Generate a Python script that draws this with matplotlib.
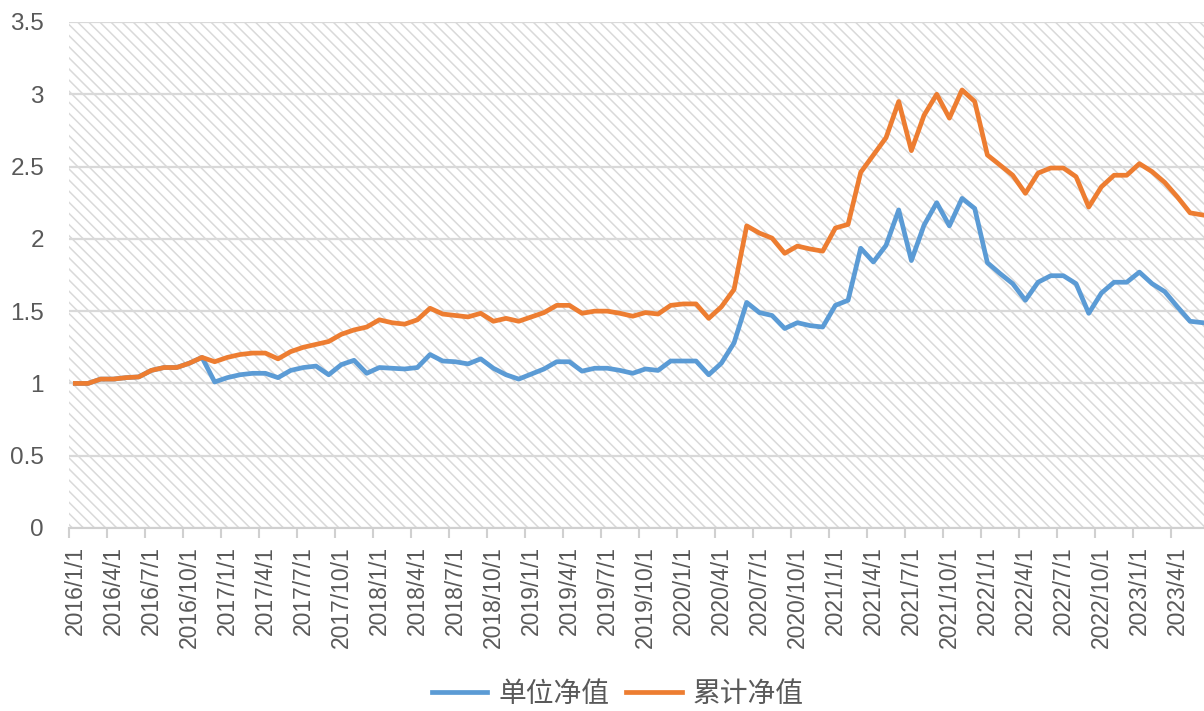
import matplotlib
matplotlib.use("Agg")
import matplotlib.pyplot as plt
from matplotlib.patches import Rectangle

plt.rcParams['font.family'] = ['Liberation Sans', 'Noto Sans CJK SC', 'DejaVu Sans']
plt.rcParams['hatch.linewidth'] = 1.1
plt.rcParams['hatch.color'] = '#d9d9d9'

# monthly series, 2016/1 .. 2023/6
unit_nav = [1.00, 1.00, 1.03, 1.03, 1.04, 1.045, 1.09, 1.11, 1.11, 1.14,
            1.18, 1.01, 1.04, 1.06, 1.07, 1.07, 1.04, 1.09, 1.11, 1.12,
            1.06, 1.13, 1.16, 1.07, 1.11, 1.105, 1.10, 1.11, 1.20, 1.155,
            1.15, 1.135, 1.17, 1.105, 1.06, 1.03, 1.065, 1.10, 1.15, 1.15,
            1.085, 1.105, 1.105, 1.09, 1.07, 1.10, 1.09, 1.155, 1.155, 1.155,
            1.06, 1.14, 1.28, 1.56, 1.49, 1.47, 1.38, 1.42, 1.40, 1.39,
            1.54, 1.575, 1.935, 1.84, 1.955, 2.20, 1.85, 2.095, 2.25, 2.09,
            2.28, 2.21, 1.835, 1.76, 1.69, 1.575, 1.70, 1.745, 1.745, 1.69,
            1.485, 1.625, 1.70, 1.70, 1.77, 1.69, 1.635, 1.53, 1.43, 1.42]
acc_nav = [1.00, 1.00, 1.03, 1.03, 1.04, 1.045, 1.09, 1.11, 1.11, 1.14,
           1.18, 1.15, 1.18, 1.20, 1.21, 1.21, 1.17, 1.22, 1.25, 1.27,
           1.29, 1.34, 1.37, 1.39, 1.44, 1.42, 1.41, 1.44, 1.52, 1.48,
           1.47, 1.46, 1.485, 1.43, 1.45, 1.43, 1.46, 1.49, 1.54, 1.54,
           1.485, 1.50, 1.50, 1.485, 1.465, 1.49, 1.48, 1.54, 1.55, 1.55,
           1.45, 1.53, 1.65, 2.09, 2.04, 2.005, 1.90, 1.95, 1.93, 1.915,
           2.075, 2.10, 2.46, 2.58, 2.70, 2.95, 2.61, 2.855, 3.00, 2.835,
           3.03, 2.95, 2.58, 2.51, 2.44, 2.315, 2.455, 2.49, 2.49, 2.43,
           2.22, 2.36, 2.44, 2.44, 2.52, 2.465, 2.39, 2.29, 2.18, 2.165]
dates = [f"{2016 + i // 12}/{i % 12 + 1}/1" for i in range(len(unit_nav))]
series_names = ['单位净值', '累计净值']
colors = ['#5b9bd5', '#ed7d31']

fig = plt.figure(figsize=(12.04, 7.11), dpi=100)
ax = fig.add_axes([69 / 1204, 183 / 711, 1135 / 1204, 506 / 711])

# hatched plot background
ax.add_patch(Rectangle((0, 0), 1, 1, transform=ax.transAxes, facecolor='white',
                       edgecolor='#d9d9d9', linewidth=0, hatch='\\\\\\', zorder=0))

x = list(range(len(unit_nav)))
ax.plot(x, unit_nav, color=colors[0], lw=3.4, label=series_names[0], zorder=3,
        solid_joinstyle='round')
ax.plot(x, acc_nav, color=colors[1], lw=3.4, label=series_names[1], zorder=3,
        solid_joinstyle='round')

ax.set_xlim(-0.5, 89.1)
ax.set_ylim(0, 3.5)
ax.set_yticks([0, 0.5, 1, 1.5, 2, 2.5, 3, 3.5])
ax.set_yticklabels(['0', '0.5', '1', '1.5', '2', '2.5', '3', '3.5'])
ax.yaxis.grid(True, color='#d9d9d9', lw=1.6, zorder=1)
ax.set_axisbelow(True)

ax.set_xticks(x[::3])
ax.set_xticklabels(dates[::3], rotation=90)
ax.set_xticks([i - 0.5 for i in x[::3]], minor=True)
ax.tick_params(axis='x', which='major', length=0, pad=13, labelsize=16.5,
               labelcolor='#595959')
ax.tick_params(axis='x', which='minor', length=7, width=1.5, color='#d0d0d0')
ax.tick_params(axis='y', length=0, pad=18, labelsize=17.5, labelcolor='#595959')

for s in ['top', 'right', 'left']:
    ax.spines[s].set_visible(False)
ax.spines['bottom'].set_color('#d0d0d0')
ax.spines['bottom'].set_linewidth(1.5)

leg = fig.legend(loc='center', bbox_to_anchor=(0.513, 0.024), ncol=2, frameon=False,
                 fontsize=20, handlelength=2.0, columnspacing=0.6, handletextpad=0.4)
for t in leg.get_texts():
    t.set_color('#595959')
    t.set_family(['Noto Sans CJK SC', 'DejaVu Sans'])

fig.savefig('out.png', dpi=100)
